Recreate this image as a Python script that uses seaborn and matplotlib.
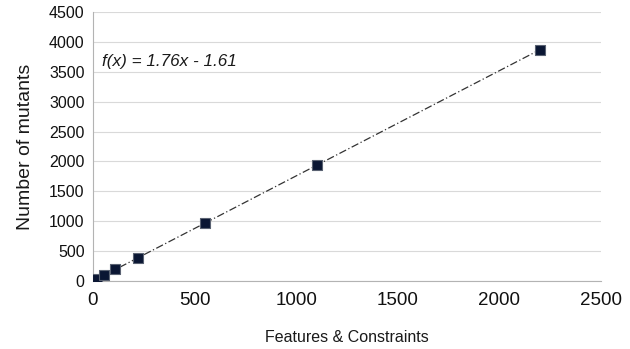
import matplotlib
matplotlib.use("Agg")
import matplotlib.pyplot as plt
import seaborn as sns
import pandas as pd
import numpy as np

features = [11, 22, 55, 110, 220, 550, 1100, 2200]
mutants = [18, 38, 96, 193, 386, 967, 1934, 3871]
x_ticks = [0, 500, 1000, 1500, 2000, 2500]
y_ticks = [0, 500, 1000, 1500, 2000, 2500, 3000, 3500, 4000, 4500]
equation = "f(x) = 1.76x - 1.61"

sns.set_theme(style="white")
plt.rcParams['font.family'] = ['Liberation Sans', 'DejaVu Sans']

df = pd.DataFrame({"Features & Constraints": features, "Number of mutants": mutants})

fig = plt.figure(figsize=(6.3, 3.49), dpi=100)
ax = fig.add_axes([0.1476, 0.1948, 0.8064, 0.7708])

sns.regplot(data=df, x="Features & Constraints", y="Number of mutants", ax=ax,
            ci=None, truncate=True, marker="s",
            scatter_kws=dict(s=62, color="#0a1633", edgecolor="#5a6272", linewidths=0.8,
                             alpha=1, zorder=3),
            line_kws=dict(color="#333333", linestyle=(0, (6, 2, 1, 2)), linewidth=0.9, zorder=2))

ax.set_xlim(0, 2500)
ax.set_ylim(0, 4500)
ax.set_xticks(x_ticks)
ax.set_yticks(y_ticks)
ax.tick_params(axis="both", colors="#b3b3b3", labelcolor="#111111",
               length=4, width=0.8, direction="out")
ax.tick_params(axis="x", labelsize=13.5, pad=4)
ax.tick_params(axis="y", labelsize=11.5, pad=2)
ax.yaxis.grid(True, color="#d9d9d9", linewidth=0.8)
ax.xaxis.grid(False)
ax.set_axisbelow(True)
for side in ["top", "right"]:
    ax.spines[side].set_visible(False)
for side in ["left", "bottom"]:
    ax.spines[side].set_color("#b3b3b3")
    ax.spines[side].set_linewidth(0.8)

ax.set_xlabel("Features & Constraints", fontsize=11.5, color="#1a1a1a", labelpad=15)
ax.set_ylabel("Number of mutants", fontsize=14, color="#1a1a1a", labelpad=11)

ax.text(0.018, 0.80, equation, transform=ax.transAxes, fontsize=12.3,
        style="italic", color="#1a1a1a")

fig.savefig("out.png", dpi=100, facecolor="white")
